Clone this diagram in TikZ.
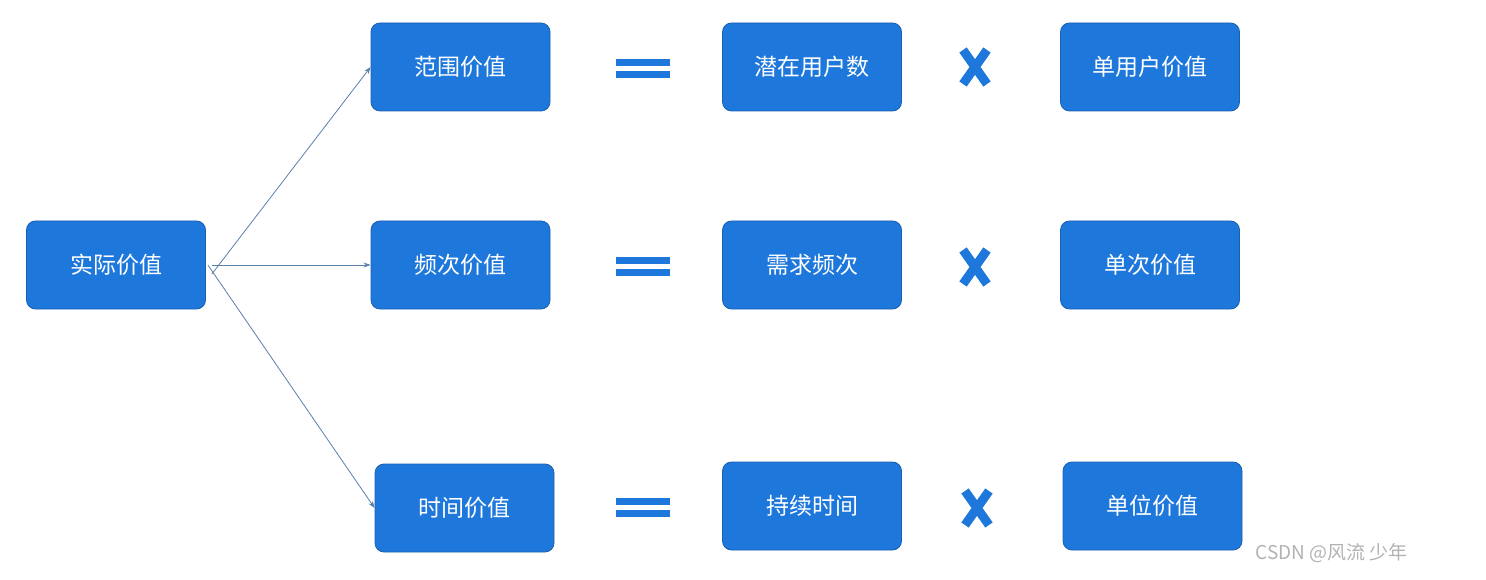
\documentclass[tikz,border=0pt]{standalone}
\usepackage{fontspec}
\setmainfont{Noto Sans CJK SC}
\usetikzlibrary{arrows.meta}
\definecolor{bx}{HTML}{1E78DC}
\definecolor{bd}{HTML}{1A5FB0}
\definecolor{ln}{HTML}{5A7FA8}
\begin{document}
\begin{tikzpicture}[x=1pt,y=-1pt,
 box/.style={draw=bd,line width=0.8pt,fill=bx,rounded corners=9pt,minimum width=179pt,minimum height=88pt,text=white,font=\fontsize{23}{23}\selectfont,inner sep=0pt},
 conn/.style={draw=ln,line width=0.8pt,-{Stealth[length=7pt,width=5pt]}}]
\useasboundingbox (0,0) rectangle (1486,580);
\newcommand{\eqs}[2]{\fill[bx] (#1-27,#2-8) rectangle (#1+27,#2-1); \fill[bx] (#1-27,#2+4) rectangle (#1+27,#2+11);}
\newcommand{\xs}[2]{\draw[bx,line width=9pt] (#1-12,#2-17) -- (#1+12,#2+17); \draw[bx,line width=9pt] (#1+12,#2-17) -- (#1-12,#2+17);}
\node[box] (a) at (116,265) {实际价值};
\node[box] (b1) at (460.5,67) {范围价值};
\node[box] (b2) at (460.5,265) {频次价值};
\node[box] (b3) at (464.5,508) {时间价值};
\node[box] (c1) at (812,67) {潜在用户数};
\node[box] (c2) at (812,265) {需求频次};
\node[box] (c3) at (812,506) {持续时间};
\node[box] (d1) at (1150,67) {单用户价值};
\node[box] (d2) at (1150,265) {单次价值};
\node[box] (d3) at (1152.5,506) {单位价值};
\eqs{643}{67}\eqs{643}{265}\eqs{643}{506}
\xs{975}{67}\xs{975}{267}\xs{977}{508}
\draw[conn] ([xshift=6pt,yshift=-9pt]a.east) -- (b1.west);
\draw[conn] ([xshift=6pt]a.east) -- (b2.west);
\draw[conn] ([xshift=2pt]a.east) -- (b3.west);
\node[text=gray!60,font=\fontsize{19}{19}\selectfont,anchor=west] (w) at (1252,553) {CSDN @风流 少年};
\end{tikzpicture}
\end{document}
